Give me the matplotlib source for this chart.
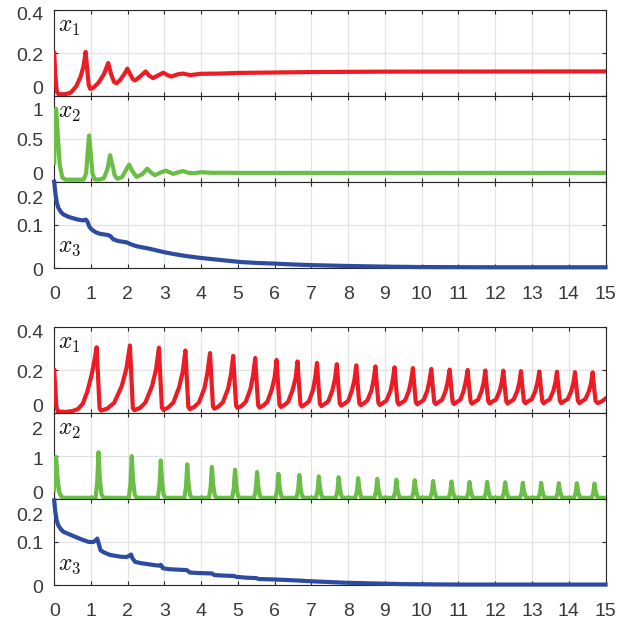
import matplotlib
matplotlib.use("Agg")
import matplotlib.pyplot as plt
import matplotlib.transforms as mtransforms
import numpy as np

plt.rcParams['font.family'] = ['Liberation Sans', 'DejaVu Sans']
plt.rcParams['mathtext.fontset'] = 'cm'

RED = '#ED1C24'
GREEN = '#6BBE45'
BLUE = '#2D4B9F'
TXT = '#3a3a3a'

# ---- upper set of panels (damped) : (t, value)
x1_top = [(0, 0.20), (0.03, 0.10), (0.07, 0.02), (0.12, 0.008), (0.30, 0.008), (0.45, 0.015),
          (0.60, 0.045), (0.72, 0.09), (0.80, 0.14), (0.855, 0.205), (0.90, 0.12), (0.94, 0.05),
          (0.98, 0.033), (1.05, 0.036), (1.20, 0.06), (1.35, 0.10), (1.47, 0.153), (1.55, 0.10),
          (1.63, 0.065), (1.70, 0.059), (1.80, 0.075), (1.92, 0.105), (1.99, 0.127), (2.07, 0.10),
          (2.14, 0.078), (2.20, 0.072), (2.32, 0.088), (2.43, 0.105), (2.49, 0.114), (2.58, 0.094),
          (2.69, 0.083), (2.82, 0.095), (2.97, 0.108), (3.08, 0.097), (3.19, 0.090), (3.35, 0.100),
          (3.50, 0.104), (3.70, 0.097), (4.00, 0.103), (4.50, 0.104), (5.00, 0.107), (6.00, 0.109),
          (7.00, 0.111), (9.00, 0.113), (15.0, 0.114)]

x2_top = [(0, 0.22), (0.02, 0.60), (0.05, 0.85), (0.09, 0.60), (0.15, 0.20), (0.22, 0.05),
          (0.30, 0.025), (0.80, 0.025), (0.87, 0.10), (0.92, 0.40), (0.95, 0.54), (0.99, 0.35),
          (1.04, 0.10), (1.10, 0.03), (1.20, 0.025), (1.35, 0.04), (1.45, 0.15), (1.52, 0.31),
          (1.58, 0.20), (1.65, 0.07), (1.72, 0.035), (1.85, 0.055), (1.97, 0.15), (2.04, 0.20),
          (2.12, 0.13), (2.24, 0.057), (2.40, 0.09), (2.53, 0.153), (2.63, 0.11), (2.74, 0.076),
          (2.90, 0.11), (3.04, 0.13), (3.14, 0.11), (3.24, 0.092), (3.40, 0.115), (3.51, 0.124),
          (3.65, 0.105), (3.80, 0.100), (4.00, 0.112), (4.30, 0.104), (4.60, 0.106), (5.00, 0.104),
          (6.00, 0.104), (15.0, 0.104)]

x3_top = [(0, 0.200), (0.03, 0.175), (0.07, 0.152), (0.11, 0.140), (0.18, 0.130), (0.25, 0.124),
          (0.40, 0.118), (0.52, 0.115), (0.65, 0.112), (0.79, 0.110), (0.86, 0.112), (0.90, 0.108),
          (0.96, 0.095), (1.02, 0.089), (1.12, 0.083), (1.24, 0.079), (1.47, 0.076), (1.52, 0.074),
          (1.61, 0.066), (1.75, 0.062), (1.97, 0.059), (2.10, 0.054), (2.24, 0.050), (2.60, 0.044),
          (3.00, 0.036), (3.24, 0.032), (3.60, 0.027), (3.96, 0.023), (4.30, 0.020), (4.69, 0.0165),
          (5.10, 0.013), (5.55, 0.011), (6.00, 0.0095), (6.50, 0.0075), (7.00, 0.006), (8.00, 0.004),
          (9.00, 0.0025), (10.0, 0.0015), (12.0, 0.001), (15.0, 0.001)]

# ---- lower set of panels (sustained spiking)
x1_bot = [(0, 0.20), (0.03, 0.12), (0.06, 0.03), (0.10, 0.008), (0.30, 0.006), (0.50, 0.010),
          (0.65, 0.020), (0.78, 0.045), (0.90, 0.10), (1.02, 0.18), (1.10, 0.25), (1.155, 0.307),
          (1.195, 0.16), (1.235, 0.022), (1.275, 0.012), (1.45, 0.022), (1.63, 0.048), (1.84, 0.127), (1.966, 0.209), (2.06, 0.315),
          (2.10, 0.165), (2.14, 0.024), (2.18, 0.014), (2.33, 0.024), (2.48, 0.049), (2.66, 0.125), (2.77, 0.203), (2.85, 0.305),
          (2.89, 0.160), (2.93, 0.026), (2.97, 0.016), (3.10, 0.026), (3.24, 0.049), (3.40, 0.121), (3.50, 0.195), (3.57, 0.292),
          (3.61, 0.155), (3.65, 0.029), (3.69, 0.019), (3.81, 0.029), (3.94, 0.050), (4.09, 0.118), (4.17, 0.189), (4.24, 0.280),
          (4.28, 0.150), (4.32, 0.031), (4.36, 0.021), (4.47, 0.031), (4.59, 0.051), (4.73, 0.114), (4.81, 0.181), (4.87, 0.267),
          (4.91, 0.145), (4.95, 0.034), (4.99, 0.024), (5.10, 0.034), (5.21, 0.052), (5.34, 0.113), (5.41, 0.175), (5.47, 0.257),
          (5.51, 0.140), (5.55, 0.036), (5.59, 0.026), (5.69, 0.036), (5.80, 0.053), (5.92, 0.110), (6.00, 0.170), (6.05, 0.248),
          (6.09, 0.138), (6.13, 0.039), (6.17, 0.029), (6.27, 0.039), (6.37, 0.054), (6.49, 0.110), (6.57, 0.166), (6.62, 0.241),
          (6.66, 0.136), (6.70, 0.041), (6.74, 0.031), (6.83, 0.041), (6.93, 0.055), (7.04, 0.108), (7.10, 0.163), (7.15, 0.234),
          (7.19, 0.134), (7.23, 0.043), (7.27, 0.033), (7.36, 0.043), (7.46, 0.056), (7.57, 0.107), (7.64, 0.160), (7.69, 0.228),
          (7.73, 0.132), (7.77, 0.045), (7.81, 0.035), (7.90, 0.045), (8.00, 0.058), (8.10, 0.106), (8.17, 0.157), (8.22, 0.223),
          (8.26, 0.130), (8.30, 0.047), (8.34, 0.037), (8.43, 0.047), (8.52, 0.059), (8.63, 0.105), (8.69, 0.155), (8.74, 0.218),
          (8.78, 0.128), (8.82, 0.048), (8.86, 0.038), (8.95, 0.048), (9.04, 0.059), (9.15, 0.104), (9.21, 0.153), (9.26, 0.214),
          (9.30, 0.127), (9.34, 0.050), (9.38, 0.040), (9.46, 0.050), (9.55, 0.060), (9.65, 0.104), (9.71, 0.152), (9.76, 0.210),
          (9.80, 0.126), (9.84, 0.051), (9.88, 0.041), (9.96, 0.051), (10.05, 0.061), (10.15, 0.104), (10.21, 0.151), (10.26, 0.206),
          (10.30, 0.124), (10.34, 0.052), (10.38, 0.042), (10.46, 0.052), (10.55, 0.061), (10.65, 0.104), (10.71, 0.149), (10.76, 0.203),
          (10.80, 0.123), (10.84, 0.053), (10.88, 0.043), (10.96, 0.053), (11.05, 0.062), (11.14, 0.104), (11.20, 0.149), (11.25, 0.201),
          (11.29, 0.122), (11.33, 0.054), (11.37, 0.044), (11.45, 0.054), (11.53, 0.062), (11.63, 0.104), (11.69, 0.148), (11.73, 0.199),
          (11.77, 0.122), (11.81, 0.055), (11.85, 0.045), (11.93, 0.055), (12.02, 0.063), (12.12, 0.104), (12.18, 0.147), (12.22, 0.198),
          (12.26, 0.121), (12.30, 0.055), (12.34, 0.045), (12.42, 0.055), (12.50, 0.063), (12.60, 0.104), (12.66, 0.146), (12.70, 0.196),
          (12.74, 0.121), (12.78, 0.056), (12.82, 0.046), (12.90, 0.056), (12.99, 0.064), (13.09, 0.103), (13.15, 0.145), (13.20, 0.194),
          (13.24, 0.120), (13.28, 0.056), (13.32, 0.046), (13.40, 0.056), (13.48, 0.064), (13.58, 0.103), (13.64, 0.145), (13.68, 0.193),
          (13.72, 0.120), (13.76, 0.057), (13.80, 0.047), (13.88, 0.057), (13.97, 0.065), (14.07, 0.103), (14.13, 0.144), (14.17, 0.191),
          (14.21, 0.119), (14.25, 0.057), (14.29, 0.047), (14.37, 0.057), (14.45, 0.065), (14.55, 0.103), (14.61, 0.143), (14.65, 0.190),
          (14.69, 0.118), (14.73, 0.057), (14.79, 0.047), (14.90, 0.055), (15.0, 0.068)]

x2_bot = [(0, 0.20), (0.02, 0.70), (0.05, 0.98), (0.09, 0.50), (0.14, 0.15), (0.20, 0.05), (0.28, 0.03),
          (1.125, 0.03), (1.17, 0.38), (1.205, 1.09), (1.24, 0.49), (1.285, 0.11), (1.345, 0.03),
          (2.03, 0.03), (2.075, 0.35), (2.11, 1.00), (2.145, 0.45), (2.19, 0.10), (2.25, 0.03),
          (2.82, 0.03), (2.865, 0.32), (2.90, 0.90), (2.935, 0.41), (2.98, 0.09), (3.04, 0.03),
          (3.54, 0.03), (3.585, 0.28), (3.62, 0.81), (3.655, 0.36), (3.70, 0.08), (3.76, 0.03),
          (4.21, 0.03), (4.255, 0.26), (4.29, 0.75), (4.325, 0.34), (4.37, 0.08), (4.43, 0.03),
          (4.84, 0.03), (4.885, 0.24), (4.92, 0.685), (4.955, 0.31), (5.00, 0.07), (5.06, 0.03),
          (5.44, 0.03), (5.485, 0.22), (5.52, 0.63), (5.555, 0.28), (5.60, 0.065), (5.66, 0.03),
          (6.02, 0.03), (6.065, 0.21), (6.10, 0.59), (6.135, 0.27), (6.18, 0.06), (6.24, 0.03),
          (6.59, 0.03), (6.635, 0.20), (6.67, 0.56), (6.705, 0.25), (6.75, 0.06), (6.81, 0.03),
          (7.12, 0.03), (7.165, 0.19), (7.20, 0.53), (7.235, 0.24), (7.28, 0.055), (7.34, 0.03),
          (7.66, 0.03), (7.705, 0.18), (7.74, 0.51), (7.775, 0.23), (7.82, 0.055), (7.88, 0.03),
          (8.19, 0.03), (8.235, 0.17), (8.27, 0.49), (8.305, 0.22), (8.35, 0.05), (8.41, 0.03),
          (8.71, 0.03), (8.755, 0.17), (8.79, 0.47), (8.825, 0.21), (8.87, 0.05), (8.93, 0.03),
          (9.23, 0.03), (9.275, 0.16), (9.31, 0.45), (9.345, 0.20), (9.39, 0.05), (9.45, 0.03),
          (9.73, 0.03), (9.775, 0.16), (9.81, 0.44), (9.845, 0.20), (9.89, 0.05), (9.95, 0.03),
          (10.23, 0.03), (10.275, 0.15), (10.31, 0.42), (10.345, 0.19), (10.39, 0.05), (10.45, 0.03),
          (10.73, 0.03), (10.775, 0.15), (10.81, 0.41), (10.845, 0.18), (10.89, 0.05), (10.95, 0.03),
          (11.22, 0.03), (11.265, 0.14), (11.30, 0.40), (11.335, 0.18), (11.38, 0.05), (11.44, 0.03),
          (11.70, 0.03), (11.745, 0.14), (11.78, 0.40), (11.815, 0.18), (11.86, 0.05), (11.92, 0.03),
          (12.19, 0.03), (12.235, 0.14), (12.27, 0.39), (12.305, 0.18), (12.35, 0.05), (12.41, 0.03),
          (12.67, 0.03), (12.715, 0.13), (12.75, 0.38), (12.785, 0.17), (12.83, 0.05), (12.89, 0.03),
          (13.17, 0.03), (13.215, 0.13), (13.25, 0.38), (13.285, 0.17), (13.33, 0.05), (13.39, 0.03),
          (13.65, 0.03), (13.695, 0.13), (13.73, 0.37), (13.765, 0.17), (13.81, 0.05), (13.87, 0.03),
          (14.14, 0.03), (14.185, 0.13), (14.22, 0.37), (14.255, 0.17), (14.30, 0.05), (14.36, 0.03),
          (14.62, 0.03), (14.665, 0.13), (14.70, 0.36), (14.735, 0.16), (14.78, 0.05), (14.84, 0.03),
          (15.0, 0.03)]

x3_bot = [(0, 0.197), (0.03, 0.170), (0.07, 0.150), (0.11, 0.139), (0.18, 0.130), (0.25, 0.124),
          (0.52, 0.114), (0.75, 0.106), (0.93, 0.1005), (1.06, 0.100), (1.13, 0.104), (1.17, 0.108),
          (1.20, 0.100), (1.26, 0.081), (1.35, 0.076), (1.52, 0.070), (1.80, 0.066), (1.97, 0.065),
          (2.06, 0.069), (2.09, 0.071), (2.13, 0.062), (2.20, 0.054), (2.35, 0.051), (2.51, 0.049),
          (2.75, 0.046), (2.86, 0.045), (2.90, 0.047), (2.96, 0.039), (3.10, 0.037), (3.51, 0.035),
          (3.58, 0.035), (3.62, 0.034), (3.69, 0.029), (3.90, 0.028), (4.23, 0.027), (4.29, 0.027),
          (4.36, 0.023), (4.69, 0.0216), (4.90, 0.021), (4.95, 0.019), (5.23, 0.017), (5.50, 0.016),
          (5.56, 0.014), (5.95, 0.013), (6.50, 0.011), (7.04, 0.0085), (7.86, 0.0055), (8.50, 0.004),
          (9.50, 0.002), (11.0, 0.001), (15.0, 0.001)]

# panel settings: series, colour, ylim, ticks, labels, label shift (px, + = up)
top_group = [
    (x1_top, RED, 0.4, [0, 0.2, 0.4], ['0', '0.2', '0.4'], [9, -1, -3], r'$x_1$'),
    (x2_top, GREEN, 1.0, [0, 0.5, 1], ['0', '0.5', '1'], [9, 0, -13], r'$x_2$'),
    (x3_top, BLUE, 0.2, [0, 0.1, 0.2], ['0', '0.1', '0.2'], [-1, 0, -15], r'$x_3$'),
]
bot_group = [
    (x1_bot, RED, 0.4, [0, 0.2, 0.4], ['0', '0.2', '0.4'], [8, -1, -4], r'$x_1$'),
    (x2_bot, GREEN, 2.0, [0, 1, 2], ['0', '1', '2'], [7, -2, -15], r'$x_2$'),
    (x3_bot, BLUE, 0.2, [0, 0.1, 0.2], ['0', '0.1', '0.2'], [-1, 0, -15], r'$x_3$'),
]

W, H = 630, 626
fig = plt.figure(figsize=(W / 100, H / 100), dpi=100)
PH = 85.9

for top_px, group in [(10.0, top_group), (327.3, bot_group)]:
    for i, (data, col, ymax, yt, ylab, shifts, name) in enumerate(group):
        t0 = top_px + i * PH
        ax = fig.add_axes([54.2 / W, 1 - (t0 + PH) / H, 551.3 / W, PH / H])
        arr = np.array(data)
        ax.plot(arr[:, 0], arr[:, 1], color=col, lw=3.0, solid_joinstyle='round',
                clip_on=(col != BLUE), zorder=3)
        ax.set_xlim(0, 15)
        ax.set_ylim(0, ymax)
        ax.set_xticks(range(16))
        ax.set_yticks(yt)
        ax.grid(True, color='#e2e2e2', lw=0.9)
        ax.set_axisbelow(True)
        for s in ax.spines.values():
            s.set_color('#262626')
            s.set_linewidth(0.8)
        ax.tick_params(direction='in', length=3, width=0.8, color='#262626',
                       top=True, right=True, labelleft=False,
                       labelbottom=(i == 2), labelsize=14, labelcolor=TXT, pad=13)
        for v, lab, dy in zip(yt, ylab, shifts):
            off = mtransforms.ScaledTranslation(-11 / 100, (dy - 7) / 100, fig.dpi_scale_trans)
            ax.text(0, v, lab, transform=ax.get_yaxis_transform() + off,
                    ha='right', va='baseline', fontsize=14, color=TXT)
        if i < 2:
            ax.text(0.007, 0.93, name, transform=ax.transAxes, ha='left', va='top',
                    fontsize=17, color='#111111')
        else:
            ax.text(0.007, 0.11, name, transform=ax.transAxes, ha='left', va='bottom',
                    fontsize=17, color='#111111')

fig.savefig('out.png', dpi=100)
